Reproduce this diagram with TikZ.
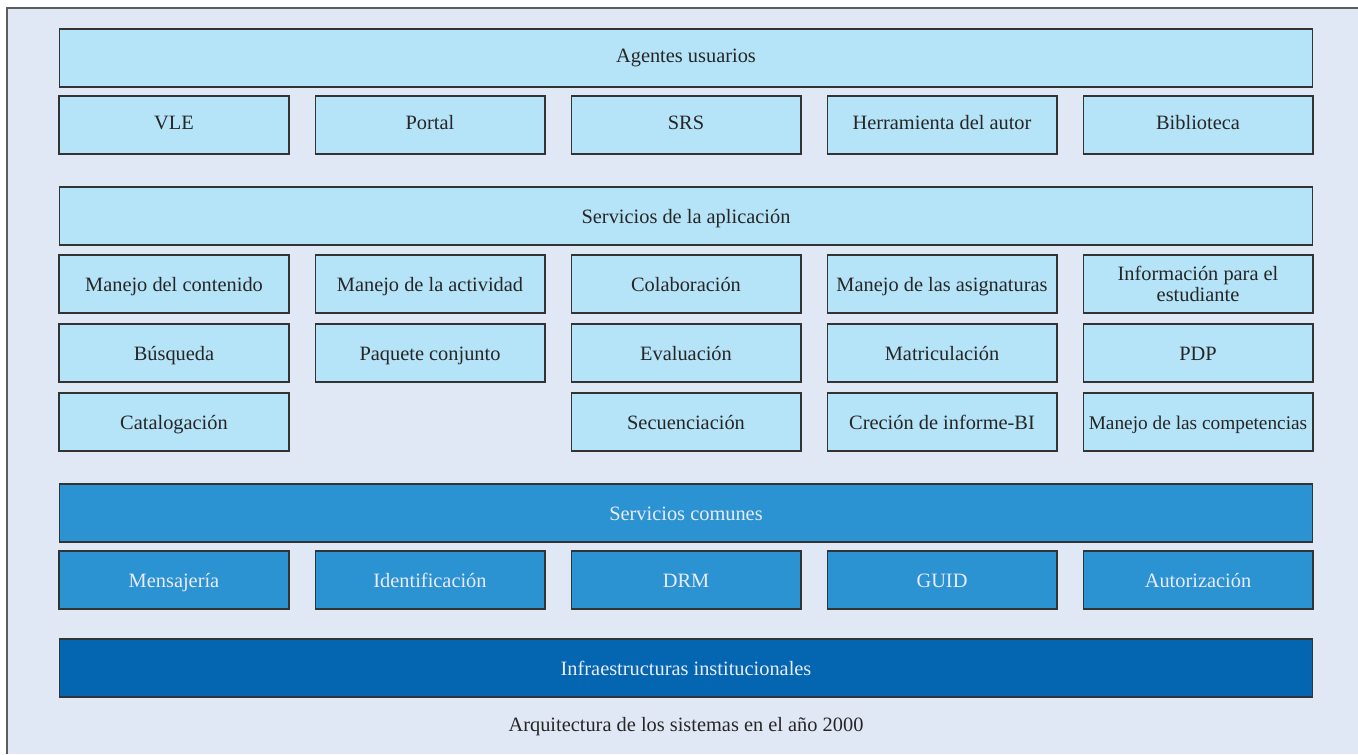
\documentclass[tikz,border=0pt]{standalone}
\usepackage{fontspec}
\setmainfont{Liberation Serif}
\usepackage{tikz}
\usetikzlibrary{positioning}
\definecolor{panelbg}{HTML}{E1E8F5}
\definecolor{lightcell}{HTML}{B5E3F7}
\definecolor{midcell}{HTML}{2B93D1}
\definecolor{darkcell}{HTML}{0466B0}
\definecolor{edgegray}{HTML}{333333}

\begin{document}
\begin{tikzpicture}[
  x=0.02cm, y=-0.02cm,
  cellbase/.style={draw=edgegray, line width=0.6pt, minimum width=4.6cm,
    minimum height=1.16cm, inner sep=0pt, align=center,
    font=\fontsize{11.6}{12}\selectfont, text=black!85},
  cell/.style={cellbase, text height=1.0em, text depth=0.15em},
  wide/.style={cell, minimum width=25.08cm},
  light/.style={fill=lightcell},
  raised/.style={text depth=0.5em},
  mid/.style={fill=midcell, text=white!92!blue},
  dark/.style={fill=darkcell, text=white!92!blue}
]
\useasboundingbox (0,0) rectangle (1358,754);
% panel
\fill[white] (0,0) rectangle (1358,754);
\fill[panelbg] (7,8) rectangle (1358,754);
\draw[edgegray!80, line width=1pt] (7,754) -- (7,8) -- (1358,8);

% Agentes usuarios
\node[wide, light, raised] (agentes) at (686,58) {Agentes usuarios};
\node[cell, light, raised] (vle) at (174,125) {VLE};
\node[cell, light, raised] (portal) at (430,125) {Portal};
\node[cell, light, raised] (srs) at (686,125) {SRS};
\node[cell, light, raised] (autor) at (942,125) {Herramienta del autor};
\node[cell, light, raised] (biblio) at (1198,125) {Biblioteca};

% Servicios de la aplicacion
\node[wide, light] (aplic) at (686,216) {Servicios de la aplicación};
\node[cell, light] (contenido) at (174,284) {Manejo del contenido};
\node[cell, light] (actividad) at (430,284) {Manejo de la actividad};
\node[cell, light] (colab) at (686,284) {Colaboración};
\node[cell, light] (asign) at (942,284) {Manejo de las asignaturas};
\node[cellbase, light] (info) at (1198,284) {Información para el\\estudiante};
\node[cell, light] (busq) at (174,353) {Búsqueda};
\node[cell, light] (paquete) at (430,353) {Paquete conjunto};
\node[cell, light] (eval) at (686,353) {Evaluación};
\node[cell, light] (matric) at (942,353) {Matriculación};
\node[cell, light] (pdp) at (1198,353) {PDP};
\node[cell, light] (catalog) at (174,422) {Catalogación};
\node[cell, light] (secuen) at (686,422) {Secuenciación};
\node[cell, light] (informe) at (942,422) {Creción de informe-BI};
\node[cell, light, font=\fontsize{11}{12}\selectfont] (compet) at (1198,422)
  {Manejo de las competencias};

% Servicios comunes
\node[wide, mid] (comunes) at (686,513) {Servicios comunes};
\node[cell, mid] (mensaj) at (174,580) {Mensajería};
\node[cell, mid] (ident) at (430,580) {Identificación};
\node[cell, mid] (drm) at (686,580) {DRM};
\node[cell, mid] (guid) at (942,580) {GUID};
\node[cell, mid] (autoriz) at (1198,580) {Autorización};

% Infraestructuras
\node[wide, dark] (infra) at (686,668) {Infraestructuras institucionales};

% caption
\node[font=\fontsize{11.6}{12}\selectfont, text=black!85] (caption) at (686,727)
  {Arquitectura de los sistemas en el año 2000};
\end{tikzpicture}
\end{document}
